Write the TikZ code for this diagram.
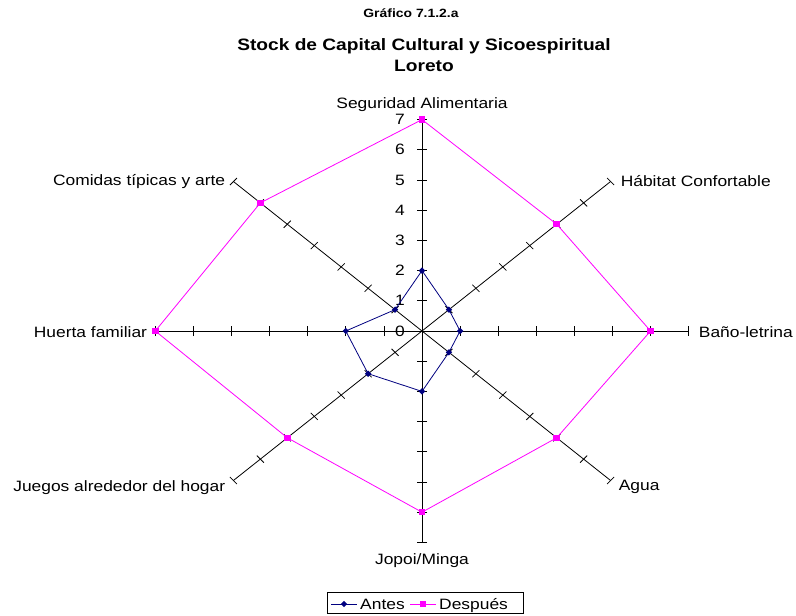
\documentclass[tikz,border=0pt]{standalone}
\usepackage{fontspec}
\setmainfont{Liberation Sans}
\usetikzlibrary{positioning, shapes.geometric, calc}
\definecolor{antesblue}{HTML}{000080}
\definecolor{despmagenta}{HTML}{FF00FF}

\tikzset{
  lbl/.style={font=\fontsize{15}{18}\selectfont, xscale=1.16, inner sep=0pt},
  axisline/.style={black, line width=0.8pt},
  antesline/.style={antesblue, line width=0.8pt},
  despline/.style={despmagenta, line width=0.8pt},
  antesmark/.style={diamond, fill=antesblue, inner sep=0pt, minimum size=6.5pt},
  despmark/.style={rectangle, fill=despmagenta, inner sep=0pt, minimum size=6.5pt},
}

\begin{document}
\begin{tikzpicture}[x=1pt, y=-1pt]
\useasboundingbox[fill=white] (0,0) rectangle (796,616);

% titles
\node[font=\bfseries\fontsize{12}{14}\selectfont, xscale=1.16] (num) at (411,13) {Gráfico 7.1.2.a};
\node[font=\bfseries\fontsize{16.5}{21}\selectfont, xscale=1.16, align=center] (title) at (424,55.5)
  {Stock de Capital Cultural y Sicoespiritual\\Loreto};

\begin{scope}[shift={(422,331)}, x=38.1pt, y=30.2pt]
% axes with ticks
\foreach \a/\n in {90/seg, 45/hab, 0/ban, -45/agu, -90/jop, -135/jue, 180/hue, 135/com}{
  \coordinate (\n) at (\a:7);
  \draw[axisline] (0,0) -- (\n);
  \foreach \k in {1,...,7}
    \draw[axisline] (\a:\k) ++(\a+90:5pt) -- ++(\a-90:10pt);
}
% scale numbers
\foreach \k in {0,...,7}
  \node[lbl, left=17pt] (v\k) at (0,\k) {\k};

% antes
\foreach \i/\a/\r in {1/90/2, 2/45/1, 3/0/1, 4/-45/1, 5/-90/2, 6/-135/2, 7/180/2, 8/135/1}
  \coordinate (a\i) at (\a:\r);
\draw[antesline] (a1) -- (a2) -- (a3) -- (a4) -- (a5) -- (a6) -- (a7) -- (a8) -- cycle;
\foreach \i in {1,...,8}
  \node[antesmark] (am\i) at (a\i) {};

% despues
\foreach \i/\a/\r in {1/90/7, 2/45/5, 3/0/6, 4/-45/5, 5/-90/6, 6/-135/5, 7/180/7, 8/135/6}
  \coordinate (d\i) at (\a:\r);
\draw[despline] (d1) -- (d2) -- (d3) -- (d4) -- (d5) -- (d6) -- (d7) -- (d8) -- cycle;
\foreach \i in {1,...,8}
  \node[despmark] (dm\i) at (d\i) {};
\end{scope}

% axis labels
\node[lbl, above=8pt of seg] (lseg) {Seguridad Alimentaria};
\node[lbl, right=10pt of hab] (lhab) {Hábitat Confortable};
\node[lbl, right=10pt of ban, yshift=-1pt] (lban) {Baño-letrina};
\node[lbl, right=8pt of agu, yshift=-6pt] (lagu) {Agua};
\node[lbl, below=11pt of jop] (ljop) {Jopoi/Minga};
\node[lbl, left=8pt of jue, yshift=-7pt] (ljue) {Juegos alrededor del hogar};
\node[lbl, left=8pt of hue, yshift=-1pt] (lhue) {Huerta familiar};
\node[lbl, left=8pt of com] (lcom) {Comidas típicas y arte};

% legend
\node[draw, line width=0.8pt, minimum width=196pt, minimum height=21pt, inner sep=0pt] (leg) at (425,603) {};
\coordinate (la1) at (331,604);
\coordinate (la2) at (357,604);
\draw[antesline] (la1) -- (la2);
\node[antesmark] (lam) at (344,604) {};
\node[lbl, anchor=base west] (lat) at (360,609.5) {Antes};
\coordinate (ld1) at (410,604);
\coordinate (ld2) at (436,604);
\draw[despline] (ld1) -- (ld2);
\node[despmark] (ldm) at (423,604) {};
\node[lbl, anchor=base west] (ldt) at (439,609.5) {Después};
\end{tikzpicture}
\end{document}
